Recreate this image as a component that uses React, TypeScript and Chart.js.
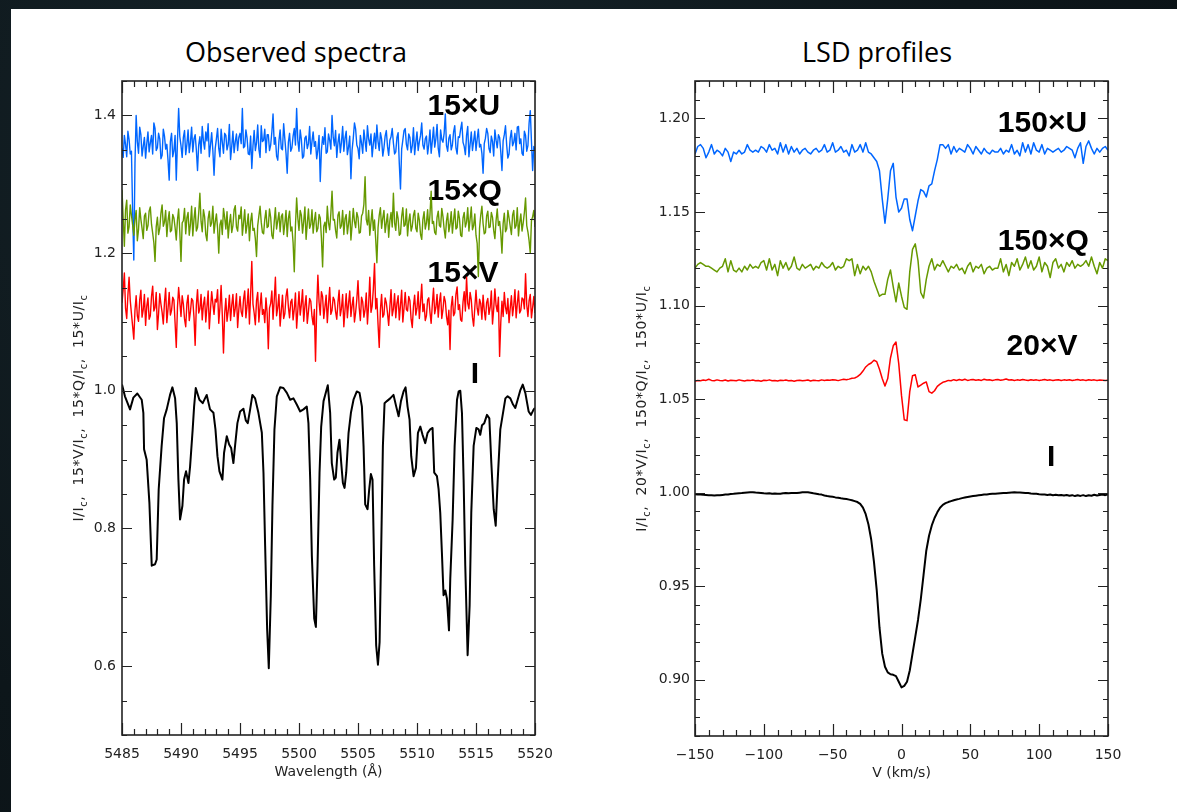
import React, { useEffect, useRef } from "react";
import { Chart, registerables } from "chart.js";

Chart.register(...registerables);

// ---------------- Observed spectra (left panel) ----------------
const I_WAVE = [
  5485.00, 5485.25, 5485.68, 5485.96, 5486.30, 5486.67, 5486.81, 5486.87, 5487.09, 5487.32,
  5487.52, 5487.80, 5487.94, 5488.11, 5488.36, 5488.56, 5488.79, 5489.07, 5489.27, 5489.50,
  5489.64, 5489.78, 5489.92, 5490.12, 5490.26, 5490.43, 5490.63, 5490.77, 5490.99, 5491.11,
  5491.25, 5491.56, 5491.84, 5492.18, 5492.46, 5492.75, 5492.92, 5493.09, 5493.26, 5493.51,
  5493.65, 5493.88, 5494.08, 5494.25, 5494.44, 5494.58, 5494.78, 5495.01, 5495.29, 5495.49,
  5495.66, 5495.86, 5496.05, 5496.28, 5496.56, 5496.85, 5496.99, 5497.13, 5497.30, 5497.44,
  5497.61, 5497.75, 5497.92, 5498.12, 5498.40, 5498.68, 5498.97, 5499.25, 5499.53, 5499.81,
  5500.10, 5500.38, 5500.66, 5500.80, 5500.95, 5501.09, 5501.29, 5501.43, 5501.57, 5501.74,
  5501.88, 5502.08, 5502.27, 5502.44, 5502.64, 5502.78, 5502.98, 5503.12, 5503.26, 5503.43,
  5503.58, 5503.72, 5503.86, 5504.00, 5504.20, 5504.40, 5504.62, 5504.90, 5505.13, 5505.33,
  5505.47, 5505.61, 5505.81, 5505.95, 5506.09, 5506.23, 5506.37, 5506.54, 5506.69, 5506.83,
  5506.97, 5507.11, 5507.25, 5507.45, 5507.73, 5508.01, 5508.24, 5508.44, 5508.64, 5508.86,
  5509.03, 5509.20, 5509.37, 5509.51, 5509.71, 5509.91, 5510.08, 5510.28, 5510.47, 5510.70,
  5510.90, 5511.12, 5511.32, 5511.46, 5511.69, 5511.83, 5511.97, 5512.11, 5512.25, 5512.40,
  5512.54, 5512.71, 5512.82, 5513.02, 5513.19, 5513.39, 5513.53, 5513.67, 5513.81, 5513.95,
  5514.09, 5514.29, 5514.46, 5514.60, 5514.80, 5515.03, 5515.22, 5515.36, 5515.51, 5515.70,
  5515.93, 5516.13, 5516.30, 5516.50, 5516.67, 5516.84, 5517.06, 5517.29, 5517.49, 5517.68,
  5517.91, 5518.14, 5518.33, 5518.53, 5518.76, 5518.96, 5519.18, 5519.46, 5519.66, 5519.89,
  5520.00,
];
const I_FLUX = [
  1.009, 0.992, 0.973, 0.990, 0.996, 0.987, 0.968, 0.915, 0.900, 0.838,
  0.746, 0.748, 0.755, 0.857, 0.920, 0.960, 0.973, 0.994, 1.005, 0.989,
  0.953, 0.871, 0.813, 0.833, 0.871, 0.883, 0.866, 0.890, 0.944, 0.977,
  1.004, 0.987, 0.982, 0.994, 0.973, 0.968, 0.944, 0.905, 0.883, 0.871,
  0.910, 0.934, 0.922, 0.917, 0.895, 0.920, 0.953, 0.970, 0.974, 0.957,
  0.953, 0.973, 0.994, 0.989, 0.968, 0.939, 0.881, 0.775, 0.654, 0.597,
  0.702, 0.833, 0.944, 0.992, 1.005, 1.004, 0.997, 0.987, 0.989, 0.980,
  0.970, 0.973, 0.977, 0.953, 0.871, 0.760, 0.669, 0.657, 0.746, 0.881,
  0.948, 0.985, 0.997, 1.008, 0.968, 0.895, 0.871, 0.874, 0.910, 0.929,
  0.895, 0.866, 0.859, 0.881, 0.939, 0.968, 0.987, 0.999, 0.997, 0.977,
  0.920, 0.835, 0.828, 0.857, 0.879, 0.871, 0.746, 0.630, 0.602, 0.635,
  0.775, 0.920, 0.982, 0.985, 0.989, 0.994, 0.977, 0.963, 0.985, 0.999,
  1.005, 0.977, 0.958, 0.905, 0.876, 0.888, 0.939, 0.948, 0.936, 0.924,
  0.939, 0.944, 0.946, 0.881, 0.876, 0.857, 0.823, 0.765, 0.703, 0.710,
  0.698, 0.652, 0.727, 0.813, 0.920, 0.987, 0.999, 1.000, 0.968, 0.871,
  0.746, 0.616, 0.688, 0.823, 0.920, 0.946, 0.944, 0.936, 0.950, 0.953,
  0.965, 0.960, 0.895, 0.828, 0.804, 0.871, 0.944, 0.968, 0.989, 0.992,
  0.989, 0.980, 0.975, 0.987, 1.001, 1.009, 0.997, 0.970, 0.965, 0.973,
  0.975,
];

const NOISE_WAVE = [
  5485.0, 5485.1, 5485.2, 5485.3, 5485.4, 5485.5, 5485.6, 5485.7, 5485.8, 5485.9,
  5486.0, 5486.1, 5486.2, 5486.3, 5486.4, 5486.5, 5486.6, 5486.7, 5486.8, 5486.9,
  5487.0, 5487.1, 5487.2, 5487.3, 5487.4, 5487.5, 5487.6, 5487.7, 5487.8, 5487.9,
  5488.0, 5488.1, 5488.2, 5488.3, 5488.4, 5488.5, 5488.6, 5488.7, 5488.8, 5488.9,
  5489.0, 5489.1, 5489.2, 5489.3, 5489.4, 5489.5, 5489.6, 5489.7, 5489.8, 5489.9,
  5490.0, 5490.1, 5490.2, 5490.3, 5490.4, 5490.5, 5490.6, 5490.7, 5490.8, 5490.9,
  5491.0, 5491.1, 5491.2, 5491.3, 5491.4, 5491.5, 5491.6, 5491.7, 5491.8, 5491.9,
  5492.0, 5492.1, 5492.2, 5492.3, 5492.4, 5492.5, 5492.6, 5492.7, 5492.8, 5492.9,
  5493.0, 5493.1, 5493.2, 5493.3, 5493.4, 5493.5, 5493.6, 5493.7, 5493.8, 5493.9,
  5494.0, 5494.1, 5494.2, 5494.3, 5494.4, 5494.5, 5494.6, 5494.7, 5494.8, 5494.9,
  5495.0, 5495.1, 5495.2, 5495.3, 5495.4, 5495.5, 5495.6, 5495.7, 5495.8, 5495.9,
  5496.0, 5496.1, 5496.2, 5496.3, 5496.4, 5496.5, 5496.6, 5496.7, 5496.8, 5496.9,
  5497.0, 5497.1, 5497.2, 5497.3, 5497.4, 5497.5, 5497.6, 5497.7, 5497.8, 5497.9,
  5498.0, 5498.1, 5498.2, 5498.3, 5498.4, 5498.5, 5498.6, 5498.7, 5498.8, 5498.9,
  5499.0, 5499.1, 5499.2, 5499.3, 5499.4, 5499.5, 5499.6, 5499.7, 5499.8, 5499.9,
  5500.0, 5500.1, 5500.2, 5500.3, 5500.4, 5500.5, 5500.6, 5500.7, 5500.8, 5500.9,
  5501.0, 5501.1, 5501.2, 5501.3, 5501.4, 5501.5, 5501.6, 5501.7, 5501.8, 5501.9,
  5502.0, 5502.1, 5502.2, 5502.3, 5502.4, 5502.5, 5502.6, 5502.7, 5502.8, 5502.9,
  5503.0, 5503.1, 5503.2, 5503.3, 5503.4, 5503.5, 5503.6, 5503.7, 5503.8, 5503.9,
  5504.0, 5504.1, 5504.2, 5504.3, 5504.4, 5504.5, 5504.6, 5504.7, 5504.8, 5504.9,
  5505.0, 5505.1, 5505.2, 5505.3, 5505.4, 5505.5, 5505.6, 5505.7, 5505.8, 5505.9,
  5506.0, 5506.1, 5506.2, 5506.3, 5506.4, 5506.5, 5506.6, 5506.7, 5506.8, 5506.9,
  5507.0, 5507.1, 5507.2, 5507.3, 5507.4, 5507.5, 5507.6, 5507.7, 5507.8, 5507.9,
  5508.0, 5508.1, 5508.2, 5508.3, 5508.4, 5508.5, 5508.6, 5508.7, 5508.8, 5508.9,
  5509.0, 5509.1, 5509.2, 5509.3, 5509.4, 5509.5, 5509.6, 5509.7, 5509.8, 5509.9,
  5510.0, 5510.1, 5510.2, 5510.3, 5510.4, 5510.5, 5510.6, 5510.7, 5510.8, 5510.9,
  5511.0, 5511.1, 5511.2, 5511.3, 5511.4, 5511.5, 5511.6, 5511.7, 5511.8, 5511.9,
  5512.0, 5512.1, 5512.2, 5512.3, 5512.4, 5512.5, 5512.6, 5512.7, 5512.8, 5512.9,
  5513.0, 5513.1, 5513.2, 5513.3, 5513.4, 5513.5, 5513.6, 5513.7, 5513.8, 5513.9,
  5514.0, 5514.1, 5514.2, 5514.3, 5514.4, 5514.5, 5514.6, 5514.7, 5514.8, 5514.9,
  5515.0, 5515.1, 5515.2, 5515.3, 5515.4, 5515.5, 5515.6, 5515.7, 5515.8, 5515.9,
  5516.0, 5516.1, 5516.2, 5516.3, 5516.4, 5516.5, 5516.6, 5516.7, 5516.8, 5516.9,
  5517.0, 5517.1, 5517.2, 5517.3, 5517.4, 5517.5, 5517.6, 5517.7, 5517.8, 5517.9,
  5518.0, 5518.1, 5518.2, 5518.3, 5518.4, 5518.5, 5518.6, 5518.7, 5518.8, 5518.9,
  5519.0, 5519.1, 5519.2, 5519.3, 5519.4, 5519.5, 5519.6, 5519.7, 5519.8, 5519.9,
  5520.0,
];
const U15 = [
  1.352, 1.339, 1.371, 1.358, 1.340, 1.377, 1.365, 1.344, 1.348, 1.262, 1.190, 1.331, 1.400, 1.362, 1.345, 1.383, 1.372, 1.341, 1.355, 1.368,
  1.338, 1.359, 1.376, 1.347, 1.360, 1.371, 1.344, 1.389, 1.381, 1.349, 1.353, 1.374, 1.366, 1.337, 1.342, 1.380, 1.370, 1.351, 1.358, 1.335,
  1.306, 1.362, 1.374, 1.340, 1.349, 1.371, 1.306, 1.362, 1.410, 1.369, 1.356, 1.339, 1.368, 1.378, 1.343, 1.358, 1.379, 1.346, 1.361, 1.383,
  1.347, 1.366, 1.372, 1.350, 1.320, 1.357, 1.369, 1.345, 1.384, 1.363, 1.351, 1.376, 1.363, 1.388, 1.340, 1.357, 1.375, 1.349, 1.313, 1.352,
  1.366, 1.381, 1.352, 1.340, 1.380, 1.361, 1.345, 1.374, 1.371, 1.350, 1.358, 1.387, 1.336, 1.355, 1.377, 1.346, 1.362, 1.373, 1.349, 1.368,
  1.374, 1.359, 1.410, 1.353, 1.355, 1.379, 1.367, 1.344, 1.343, 1.370, 1.323, 1.356, 1.378, 1.349, 1.360, 1.386, 1.351, 1.339, 1.385, 1.362,
  1.364, 1.380, 1.346, 1.372, 1.372, 1.349, 1.357, 1.376, 1.402, 1.358, 1.368, 1.341, 1.335, 1.363, 1.379, 1.352, 1.350, 1.388, 1.366, 1.345,
  1.316, 1.361, 1.374, 1.348, 1.353, 1.370, 1.381, 1.357, 1.410, 1.364, 1.348, 1.379, 1.365, 1.338, 1.341, 1.367, 1.370, 1.352, 1.359, 1.384,
  1.344, 1.362, 1.376, 1.355, 1.362, 1.337, 1.350, 1.371, 1.304, 1.349, 1.369, 1.358, 1.382, 1.345, 1.347, 1.373, 1.364, 1.351, 1.400, 1.368,
  1.356, 1.378, 1.339, 1.360, 1.373, 1.346, 1.361, 1.384, 1.348, 1.367, 1.377, 1.343, 1.354, 1.370, 1.308, 1.350, 1.367, 1.389, 1.380, 1.357,
  1.352, 1.337, 1.371, 1.360, 1.345, 1.379, 1.363, 1.348, 1.385, 1.366, 1.357, 1.373, 1.340, 1.359, 1.374, 1.352, 1.386, 1.362, 1.349, 1.375,
  1.366, 1.341, 1.353, 1.370, 1.378, 1.355, 1.342, 1.364, 1.369, 1.381, 1.360, 1.344, 1.347, 1.368, 1.375, 1.330, 1.293, 1.351, 1.364, 1.378,
  1.381, 1.358, 1.350, 1.373, 1.368, 1.346, 1.356, 1.382, 1.343, 1.361, 1.376, 1.349, 1.362, 1.371, 1.389, 1.357, 1.351, 1.366, 1.370, 1.344,
  1.358, 1.379, 1.345, 1.363, 1.383, 1.354, 1.366, 1.387, 1.352, 1.340, 1.379, 1.365, 1.361, 1.374, 1.402, 1.356, 1.348, 1.367, 1.372, 1.350,
  1.357, 1.376, 1.385, 1.353, 1.344, 1.369, 1.368, 1.380, 1.390, 1.361, 1.355, 1.343, 1.371, 1.384, 1.340, 1.358, 1.376, 1.349, 1.363, 1.377,
  1.349, 1.366, 1.380, 1.354, 1.358, 1.345, 1.316, 1.359, 1.367, 1.381, 1.374, 1.352, 1.346, 1.370, 1.362, 1.341, 1.379, 1.364, 1.353, 1.372,
  1.368, 1.347, 1.320, 1.363, 1.372, 1.385, 1.357, 1.338, 1.344, 1.367, 1.378, 1.356, 1.361, 1.374, 1.350, 1.383, 1.384, 1.359, 1.366, 1.345,
  1.342, 1.377, 1.371, 1.348, 1.356, 1.389, 1.407, 1.362, 1.320, 1.355, 1.350,
];
const Q15 = [
  1.292, 1.251, 1.210, 1.263, 1.277, 1.229, 1.238, 1.270, 1.255, 1.241, 1.226, 1.249, 1.262, 1.218, 1.234, 1.266, 1.249, 1.236, 1.221, 1.254,
  1.258, 1.233, 1.240, 1.261, 1.267, 1.242, 1.229, 1.215, 1.188, 1.238, 1.252, 1.227, 1.236, 1.258, 1.270, 1.239, 1.245, 1.262, 1.224, 1.247,
  1.260, 1.231, 1.233, 1.256, 1.251, 1.237, 1.219, 1.248, 1.264, 1.230, 1.188, 1.244, 1.247, 1.265, 1.228, 1.251, 1.259, 1.226, 1.242, 1.268,
  1.225, 1.249, 1.266, 1.232, 1.237, 1.258, 1.287, 1.246, 1.231, 1.263, 1.253, 1.227, 1.218, 1.250, 1.261, 1.239, 1.244, 1.268, 1.229, 1.245,
  1.257, 1.236, 1.200, 1.241, 1.248, 1.227, 1.265, 1.252, 1.235, 1.260, 1.222, 1.243, 1.256, 1.230, 1.240, 1.263, 1.269, 1.238, 1.232, 1.255,
  1.250, 1.267, 1.226, 1.244, 1.263, 1.229, 1.241, 1.257, 1.218, 1.246, 1.258, 1.233, 1.236, 1.221, 1.195, 1.240, 1.254, 1.268, 1.245, 1.230,
  1.228, 1.249, 1.262, 1.237, 1.239, 1.264, 1.252, 1.226, 1.221, 1.245, 1.266, 1.235, 1.247, 1.259, 1.231, 1.253, 1.257, 1.227, 1.243, 1.262,
  1.224, 1.250, 1.261, 1.232, 1.238, 1.215, 1.173, 1.240, 1.280, 1.251, 1.233, 1.262, 1.255, 1.229, 1.246, 1.267, 1.220, 1.243, 1.264, 1.236,
  1.242, 1.263, 1.229, 1.247, 1.259, 1.231, 1.236, 1.256, 1.251, 1.222, 1.180, 1.239, 1.245, 1.230, 1.268, 1.244, 1.234, 1.258, 1.290, 1.248,
  1.249, 1.233, 1.222, 1.255, 1.260, 1.236, 1.240, 1.262, 1.227, 1.250, 1.256, 1.228, 1.243, 1.261, 1.219, 1.241, 1.265, 1.246, 1.237, 1.259,
  1.252, 1.229, 1.230, 1.254, 1.258, 1.271, 1.311, 1.249, 1.241, 1.262, 1.226, 1.245, 1.263, 1.233, 1.248, 1.220, 1.186, 1.237, 1.255, 1.266,
  1.236, 1.251, 1.262, 1.230, 1.244, 1.257, 1.223, 1.247, 1.259, 1.238, 1.287, 1.244, 1.233, 1.260, 1.250, 1.226, 1.228, 1.253, 1.266, 1.239,
  1.241, 1.264, 1.225, 1.246, 1.257, 1.232, 1.239, 1.255, 1.262, 1.236, 1.231, 1.258, 1.248, 1.227, 1.220, 1.249, 1.260, 1.235, 1.244, 1.263,
  1.234, 1.256, 1.290, 1.243, 1.246, 1.230, 1.227, 1.252, 1.261, 1.240, 1.238, 1.265, 1.253, 1.235, 1.222, 1.247, 1.258, 1.231, 1.242, 1.260,
  1.229, 1.248, 1.264, 1.235, 1.237, 1.261, 1.250, 1.226, 1.224, 1.251, 1.259, 1.238, 1.245, 1.266, 1.232, 1.249, 1.267, 1.234, 1.240, 1.257,
  1.226, 1.214, 1.166, 1.236, 1.255, 1.268, 1.243, 1.228, 1.230, 1.254, 1.261, 1.237, 1.238, 1.259, 1.252, 1.233, 1.221, 1.247, 1.264, 1.240,
  1.246, 1.229, 1.200, 1.243, 1.258, 1.231, 1.235, 1.262, 1.251, 1.239, 1.227, 1.255, 1.262, 1.236, 1.240, 1.266, 1.225, 1.244, 1.257, 1.232,
  1.244, 1.259, 1.280, 1.240, 1.231, 1.218, 1.200, 1.247, 1.253, 1.262, 1.238,
];
const V15 = [
  1.128, 1.147, 1.171, 1.120, 1.105, 1.139, 1.165, 1.131, 1.112, 1.094, 1.075, 1.117, 1.138, 1.109, 1.101, 1.132, 1.146, 1.107, 1.118, 1.140,
  1.095, 1.123, 1.135, 1.104, 1.109, 1.137, 1.152, 1.116, 1.121, 1.143, 1.089, 1.112, 1.141, 1.126, 1.114, 1.097, 1.128, 1.149, 1.099, 1.119,
  1.143, 1.110, 1.117, 1.136, 1.132, 1.098, 1.063, 1.121, 1.150, 1.129, 1.108, 1.138, 1.126, 1.104, 1.093, 1.127, 1.139, 1.102, 1.115, 1.134,
  1.131, 1.107, 1.066, 1.124, 1.147, 1.113, 1.119, 1.140, 1.103, 1.125, 1.136, 1.100, 1.122, 1.145, 1.090, 1.118, 1.144, 1.127, 1.111, 1.133,
  1.129, 1.147, 1.098, 1.121, 1.153, 1.110, 1.055, 1.112, 1.134, 1.101, 1.116, 1.139, 1.102, 1.124, 1.140, 1.108, 1.120, 1.141, 1.092, 1.118,
  1.137, 1.115, 1.108, 1.133, 1.145, 1.106, 1.124, 1.148, 1.097, 1.140, 1.188, 1.126, 1.113, 1.096, 1.131, 1.143, 1.100, 1.122, 1.142, 1.111,
  1.118, 1.099, 1.135, 1.113, 1.061, 1.120, 1.127, 1.145, 1.104, 1.132, 1.165, 1.109, 1.121, 1.140, 1.094, 1.116, 1.139, 1.105, 1.112, 1.137,
  1.148, 1.122, 1.106, 1.129, 1.133, 1.103, 1.119, 1.142, 1.091, 1.117, 1.144, 1.110, 1.125, 1.147, 1.101, 1.123, 1.138, 1.098, 1.115, 1.134,
  1.130, 1.108, 1.096, 1.118, 1.043, 1.121, 1.168, 1.129, 1.110, 1.144, 1.137, 1.105, 1.122, 1.139, 1.099, 1.126, 1.150, 1.111, 1.117, 1.136,
  1.132, 1.115, 1.104, 1.128, 1.146, 1.109, 1.120, 1.140, 1.093, 1.118, 1.141, 1.106, 1.127, 1.145, 1.108, 1.124, 1.136, 1.100, 1.114, 1.133,
  1.160, 1.121, 1.102, 1.136, 1.129, 1.107, 1.118, 1.142, 1.097, 1.125, 1.165, 1.114, 1.123, 1.148, 1.185, 1.119, 1.134, 1.096, 1.063, 1.118,
  1.140, 1.107, 1.111, 1.135, 1.128, 1.113, 1.095, 1.122, 1.147, 1.109, 1.119, 1.141, 1.106, 1.127, 1.138, 1.103, 1.124, 1.146, 1.100, 1.120,
  1.143, 1.118, 1.116, 1.137, 1.131, 1.104, 1.092, 1.123, 1.139, 1.110, 1.120, 1.144, 1.105, 1.128, 1.155, 1.115, 1.126, 1.102, 1.109, 1.132,
  1.135, 1.114, 1.098, 1.126, 1.149, 1.112, 1.121, 1.140, 1.107, 1.129, 1.142, 1.105, 1.118, 1.137, 1.130, 1.108, 1.096, 1.117, 1.060, 1.122,
  1.137, 1.109, 1.113, 1.140, 1.151, 1.118, 1.125, 1.103, 1.101, 1.129, 1.144, 1.116, 1.165, 1.127, 1.119, 1.143, 1.132, 1.107, 1.094, 1.121,
  1.146, 1.120, 1.110, 1.133, 1.127, 1.104, 1.139, 1.117, 1.103, 1.128, 1.134, 1.111, 1.121, 1.145, 1.097, 1.119, 1.148, 1.124, 1.115, 1.136,
  1.050, 1.099, 1.130, 1.108, 1.143, 1.121, 1.112, 1.134, 1.099, 1.120, 1.138, 1.109, 1.124, 1.147, 1.106, 1.126, 1.145, 1.113, 1.117, 1.135,
  1.133, 1.119, 1.170, 1.125, 1.108, 1.131, 1.140, 1.106, 1.121, 1.137, 1.113,
];

// ---------------- LSD profiles (right panel) ----------------
const VEL = [
  -150, -148, -146, -144, -142, -140, -138, -136, -134, -132,
  -130, -128, -126, -124, -122, -120, -118, -116, -114, -112,
  -110, -108, -106, -104, -102, -100, -98, -96, -94, -92,
  -90, -88, -86, -84, -82, -80, -78, -76, -74, -72,
  -70, -68, -66, -64, -62, -60, -58, -56, -54, -52,
  -50, -48, -46, -44, -42, -40, -38, -36, -34, -32,
  -30, -28, -26, -24, -22, -20, -18, -16, -14, -12,
  -10, -8, -6, -4, -2, 0, 2, 4, 6, 8,
  10, 12, 14, 16, 18, 20, 22, 24, 26, 28,
  30, 32, 34, 36, 38, 40, 42, 44, 46, 48,
  50, 52, 54, 56, 58, 60, 62, 64, 66, 68,
  70, 72, 74, 76, 78, 80, 82, 84, 86, 88,
  90, 92, 94, 96, 98, 100, 102, 104, 106, 108,
  110, 112, 114, 116, 118, 120, 122, 124, 126, 128,
  130, 132, 134, 136, 138, 140, 142, 144, 146, 148,
  150,
];
const LSD_U150 = [
  1.181, 1.185, 1.186, 1.184, 1.179, 1.182, 1.186, 1.181, 1.183, 1.182,
  1.180, 1.184, 1.182, 1.177, 1.182, 1.181, 1.183, 1.181, 1.182, 1.186,
  1.183, 1.182, 1.183, 1.182, 1.185, 1.184, 1.182, 1.186, 1.183, 1.184,
  1.181, 1.187, 1.182, 1.186, 1.181, 1.185, 1.182, 1.184, 1.181, 1.183,
  1.184, 1.182, 1.181, 1.183, 1.184, 1.182, 1.183, 1.186, 1.182, 1.183,
  1.187, 1.182, 1.183, 1.185, 1.182, 1.183, 1.180, 1.186, 1.182, 1.183,
  1.186, 1.182, 1.187, 1.182, 1.181, 1.179, 1.177, 1.172, 1.157, 1.144,
  1.157, 1.172, 1.176, 1.158, 1.150, 1.152, 1.157, 1.157, 1.146, 1.140,
  1.148, 1.156, 1.162, 1.161, 1.158, 1.164, 1.165, 1.172, 1.178, 1.186,
  1.186, 1.184, 1.186, 1.181, 1.185, 1.182, 1.184, 1.183, 1.182, 1.186,
  1.184, 1.181, 1.185, 1.183, 1.181, 1.184, 1.182, 1.181, 1.183, 1.182,
  1.182, 1.184, 1.181, 1.183, 1.182, 1.186, 1.181, 1.183, 1.180, 1.187,
  1.182, 1.186, 1.181, 1.187, 1.183, 1.182, 1.186, 1.181, 1.184, 1.183,
  1.182, 1.183, 1.184, 1.182, 1.183, 1.185, 1.184, 1.183, 1.179, 1.184,
  1.187, 1.176, 1.185, 1.188, 1.184, 1.181, 1.184, 1.182, 1.184, 1.185,
  1.183,
];
const LSD_Q150 = [
  1.120, 1.122, 1.123, 1.122, 1.121, 1.121, 1.120, 1.119, 1.118, 1.120,
  1.121, 1.125, 1.118, 1.124, 1.119, 1.118, 1.120, 1.118, 1.121, 1.119,
  1.122, 1.120, 1.121, 1.120, 1.123, 1.124, 1.119, 1.125, 1.119, 1.122,
  1.116, 1.124, 1.120, 1.123, 1.119, 1.121, 1.126, 1.120, 1.119, 1.122,
  1.120, 1.121, 1.122, 1.119, 1.121, 1.120, 1.123, 1.121, 1.120, 1.121,
  1.123, 1.119, 1.121, 1.120, 1.121, 1.125, 1.124, 1.125, 1.116, 1.122,
  1.117, 1.121, 1.119, 1.121, 1.118, 1.113, 1.109, 1.105, 1.106, 1.106,
  1.114, 1.119, 1.110, 1.102, 1.112, 1.105, 1.099, 1.098, 1.118, 1.130,
  1.133, 1.124, 1.107, 1.104, 1.114, 1.121, 1.125, 1.119, 1.122, 1.121,
  1.124, 1.121, 1.118, 1.121, 1.120, 1.122, 1.119, 1.120, 1.117, 1.121,
  1.123, 1.118, 1.121, 1.120, 1.122, 1.117, 1.120, 1.121, 1.119, 1.120,
  1.120, 1.125, 1.118, 1.122, 1.116, 1.123, 1.121, 1.125, 1.119, 1.122,
  1.126, 1.120, 1.124, 1.119, 1.121, 1.126, 1.118, 1.123, 1.121, 1.115,
  1.123, 1.125, 1.120, 1.122, 1.118, 1.123, 1.121, 1.124, 1.120, 1.122,
  1.121, 1.122, 1.124, 1.121, 1.126, 1.121, 1.117, 1.123, 1.120, 1.125,
  1.124,
];
const LSD_V20 = [
  1.0595, 1.0600, 1.0598, 1.0602, 1.0600, 1.0606, 1.0600, 1.0598, 1.0603, 1.0600,
  1.0598, 1.0602, 1.0597, 1.0601, 1.0600, 1.0598, 1.0603, 1.0600, 1.0597, 1.0601,
  1.0599, 1.0602, 1.0598, 1.0600, 1.0596, 1.0601, 1.0599, 1.0603, 1.0598, 1.0600,
  1.0597, 1.0601, 1.0599, 1.0602, 1.0598, 1.0600, 1.0596, 1.0600, 1.0601, 1.0598,
  1.0600, 1.0602, 1.0597, 1.0601, 1.0599, 1.0598, 1.0603, 1.0600, 1.0602, 1.0601,
  1.0603, 1.0602, 1.0599, 1.0603, 1.0606, 1.0604, 1.0607, 1.0612, 1.0613, 1.0620,
  1.0632, 1.0650, 1.0672, 1.0685, 1.0693, 1.0708, 1.0700, 1.0660, 1.0610, 1.0570,
  1.0610, 1.0720, 1.0785, 1.0805, 1.0690, 1.0520, 1.0390, 1.0385, 1.0540, 1.0625,
  1.0630, 1.0565, 1.0575, 1.0585, 1.0592, 1.0540, 1.0532, 1.0545, 1.0568, 1.0580,
  1.0590, 1.0594, 1.0600, 1.0598, 1.0604, 1.0600, 1.0605, 1.0601, 1.0606, 1.0600,
  1.0603, 1.0605, 1.0601, 1.0604, 1.0600, 1.0606, 1.0602, 1.0604, 1.0600, 1.0603,
  1.0605, 1.0601, 1.0604, 1.0608, 1.0602, 1.0604, 1.0600, 1.0603, 1.0601, 1.0605,
  1.0602, 1.0600, 1.0604, 1.0601, 1.0603, 1.0600, 1.0602, 1.0605, 1.0601, 1.0603,
  1.0600, 1.0602, 1.0604, 1.0600, 1.0603, 1.0601, 1.0604, 1.0600, 1.0602, 1.0605,
  1.0601, 1.0603, 1.0600, 1.0604, 1.0601, 1.0603, 1.0600, 1.0602, 1.0601, 1.0600,
  1.0601,
];
const LSD_I = [
  0.9992, 0.9990, 0.9991, 0.9989, 0.9988, 0.9987, 0.9986, 0.9985, 0.9987, 0.9986,
  0.9988, 0.9990, 0.9991, 0.9993, 0.9994, 0.9996, 0.9997, 0.9998, 1.0000, 1.0001,
  1.0002, 1.0003, 1.0001, 1.0000, 0.9999, 0.9997, 0.9996, 0.9997, 0.9995, 0.9996,
  0.9994, 0.9995, 0.9997, 0.9998, 0.9997, 0.9998, 0.9999, 0.9998, 1.0000, 1.0002,
  1.0003, 1.0002, 1.0000, 0.9997, 0.9995, 0.9992, 0.9990, 0.9985, 0.9982, 0.9980,
  0.9978, 0.9975, 0.9973, 0.9970, 0.9968, 0.9966, 0.9963, 0.9960, 0.9955, 0.9950,
  0.9940, 0.9920, 0.9885, 0.9830, 0.9750, 0.9630, 0.9480, 0.9280, 0.9140, 0.9070,
  0.9040, 0.9030, 0.9027, 0.9020, 0.8990, 0.8960, 0.8968, 0.8990, 0.9050, 0.9140,
  0.9230, 0.9320, 0.9430, 0.9560, 0.9690, 0.9770, 0.9825, 0.9865, 0.9895, 0.9920,
  0.9935, 0.9944, 0.9950, 0.9955, 0.9960, 0.9964, 0.9967, 0.9971, 0.9974, 0.9977,
  0.9980, 0.9982, 0.9984, 0.9986, 0.9988, 0.9990, 0.9991, 0.9993, 0.9994, 0.9995,
  0.9996, 0.9997, 0.9998, 0.9999, 1.0000, 1.0001, 1.0002, 1.0001, 1.0001, 1.0000,
  0.9999, 0.9998, 0.9996, 0.9995, 0.9994, 0.9992, 0.9991, 0.9990, 0.9988, 0.9990,
  0.9987, 0.9989, 0.9986, 0.9988, 0.9985, 0.9988, 0.9984, 0.9987, 0.9982, 0.9986,
  0.9983, 0.9987, 0.9982, 0.9986, 0.9984, 0.9989, 0.9985, 0.9988, 0.9990, 0.9987,
  0.9991,
];

// ---------------- axis ticks ----------------
const LEFT_X_TICKS = [5485, 5490, 5495, 5500, 5505, 5510, 5515, 5520];
const LEFT_Y_TICKS = [0.6, 0.8, 1.0, 1.2, 1.4];
const RIGHT_X_TICKS = [-150, -100, -50, 0, 50, 100, 150];
const RIGHT_Y_TICKS = [0.9, 0.95, 1.0, 1.05, 1.1, 1.15, 1.2];

// ---------------- in-plot labels (data coordinates) ----------------
const LEFT_LABELS = [
  { text: "15×U", x: 5510.9, y: 1.4 },
  { text: "15×Q", x: 5510.9, y: 1.277 },
  { text: "15×V", x: 5510.9, y: 1.158 },
  { text: "I", x: 5514.55, y: 1.012 },
];
const RIGHT_LABELS = [
  { text: "150×U", x: 70, y: 1.1927 },
  { text: "150×Q", x: 70, y: 1.1295 },
  { text: "20×V", x: 76.3, y: 1.0735 },
  { text: "I", x: 105.6, y: 1.0142 },
];

const LEFT_YTITLE: [string, boolean][] = [
  ["I/I", false], ["c", true], [",  15*V/I", false], ["c", true],
  [",  15*Q/I", false], ["c", true], [",  15*U/I", false], ["c", true],
];
const RIGHT_YTITLE: [string, boolean][] = [
  ["I/I", false], ["c", true], [",  20*V/I", false], ["c", true],
  [",  150*Q/I", false], ["c", true], [",  150*U/I", false], ["c", true],
];

const AXIS_FONT = "'DejaVu Sans', 'Liberation Sans', sans-serif";
const INK = "#222";

const idlPlugin = {
  id: "idl",
  beforeDatasetsDraw(chart: any, _a: any, opts: any) {
    const { ctx } = chart;
    const xs = chart.scales.x;
    const ys = chart.scales.y;
    ctx.save();
    ctx.fillStyle = "#000";
    ctx.font = "bold 30px 'Liberation Sans', Arial, sans-serif";
    ctx.textAlign = "left";
    ctx.textBaseline = "alphabetic";
    for (const l of opts.labels) {
      ctx.fillText(l.text, xs.getPixelForValue(l.x), ys.getPixelForValue(l.y));
    }
    ctx.restore();
  },
  afterDatasetsDraw(chart: any, _a: any, opts: any) {
    const { ctx, chartArea: a } = chart;
    const xs = chart.scales.x;
    const ys = chart.scales.y;
    ctx.save();
    ctx.strokeStyle = INK;
    ctx.lineWidth = 1.2;
    ctx.beginPath();
    const nx = Math.round((opts.xMax - opts.xMin) / opts.xMinor);
    for (let i = 0; i <= nx; i++) {
      const v = opts.xMin + i * opts.xMinor;
      const major = opts.xMajor.some((m: number) => Math.abs(m - v) < 1e-6);
      const L = major ? 12 : 6;
      const p = Math.round(xs.getPixelForValue(v)) + 0.5;
      ctx.moveTo(p, a.bottom);
      ctx.lineTo(p, a.bottom - L);
      ctx.moveTo(p, a.top);
      ctx.lineTo(p, a.top + L);
    }
    const ny = Math.round((opts.yMax - opts.yMin) / opts.yMinor);
    for (let i = 0; i <= ny; i++) {
      const v = opts.yMin + i * opts.yMinor;
      const major = opts.yMajor.some((m: number) => Math.abs(m - v) < 1e-6);
      const L = major ? 10 : 5;
      const p = Math.round(ys.getPixelForValue(v)) + 0.5;
      ctx.moveTo(a.left, p);
      ctx.lineTo(a.left + L, p);
      ctx.moveTo(a.right, p);
      ctx.lineTo(a.right - L, p);
    }
    ctx.stroke();
    ctx.lineWidth = 1.6;
    ctx.strokeRect(a.left, a.top, a.right - a.left, a.bottom - a.top);

    // x title
    ctx.fillStyle = INK;
    ctx.font = `14px ${AXIS_FONT}`;
    ctx.textAlign = "center";
    ctx.textBaseline = "middle";
    ctx.fillText(opts.xTitle, (a.left + a.right) / 2, a.bottom + 37);

    // y title with subscripts
    const main = `14px ${AXIS_FONT}`;
    const sub = `10px ${AXIS_FONT}`;
    (ctx as any).letterSpacing = "0.6px";
    let total = 0;
    for (const [t, s] of opts.yTitle) {
      ctx.font = s ? sub : main;
      total += ctx.measureText(t).width;
    }
    ctx.translate(opts.yTitleX, (a.top + a.bottom) / 2);
    ctx.rotate(-Math.PI / 2);
    ctx.textAlign = "left";
    let x = -total / 2;
    for (const [t, s] of opts.yTitle) {
      ctx.font = s ? sub : main;
      ctx.fillText(t, x, s ? 5 : 0);
      x += ctx.measureText(t).width;
    }
    ctx.restore();
  },
};

function line(xv: number[], yv: number[], color: string, width: number) {
  return {
    data: xv.map((x, i) => ({ x, y: yv[i] })),
    borderColor: color,
    borderWidth: width,
    pointRadius: 0,
    tension: 0,
    fill: false,
    borderJoinStyle: "round" as const,
  };
}

function scaleCommon(ticks: number[], fmt: (v: number) => string, pad: number) {
  return {
    type: "linear" as const,
    grid: { display: false, drawTicks: false },
    border: { display: false },
    afterBuildTicks: (s: any) => {
      s.ticks = ticks.map((value) => ({ value }));
    },
    ticks: {
      autoSkip: false,
      maxRotation: 0,
      padding: pad,
      color: INK,
      font: { family: AXIS_FONT, size: 14 },
      callback: (v: any) => fmt(Number(v)),
    },
  };
}

function leftConfig(): any {
  return {
    type: "line",
    data: {
      datasets: [
        line(I_WAVE, I_FLUX, "#000000", 2),
        line(NOISE_WAVE, V15, "#ff0000", 1.4),
        line(NOISE_WAVE, Q15, "#669900", 1.4),
        line(NOISE_WAVE, U15, "#0066ff", 1.4),
      ],
    },
    options: {
      responsive: false,
      animation: false,
      devicePixelRatio: 1,
      layout: { padding: { left: 0, right: 65, top: 81, bottom: 0 } },
      plugins: {
        legend: { display: false },
        tooltip: { enabled: false },
        idl: {
          labels: LEFT_LABELS,
          xMin: 5485, xMax: 5520, xMinor: 1, xMajor: LEFT_X_TICKS,
          yMin: 0.5, yMax: 1.45, yMinor: 0.05, yMajor: LEFT_Y_TICKS,
          xTitle: "Wavelength (Å)",
          yTitle: LEFT_YTITLE,
          yTitleX: 79,
        },
      },
      scales: {
        x: {
          ...scaleCommon(LEFT_X_TICKS, (v) => String(v), 11),
          min: 5485, max: 5520,
          afterFit: (s: any) => { s.height = 77; },
        },
        y: {
          ...scaleCommon(LEFT_Y_TICKS, (v) => v.toFixed(1), 6),
          min: 0.5, max: 1.45,
          afterFit: (s: any) => { s.width = 122; },
        },
      },
    },
    plugins: [idlPlugin],
  };
}

function rightConfig(): any {
  return {
    type: "line",
    data: {
      datasets: [
        line(VEL, LSD_I, "#000000", 2),
        line(VEL, LSD_V20, "#ff0000", 1.5),
        line(VEL, LSD_Q150, "#669900", 1.5),
        line(VEL, LSD_U150, "#0066ff", 1.5),
      ],
    },
    options: {
      responsive: false,
      animation: false,
      devicePixelRatio: 1,
      layout: { padding: { left: 0, right: 69, top: 81, bottom: 0 } },
      plugins: {
        legend: { display: false },
        tooltip: { enabled: false },
        idl: {
          labels: RIGHT_LABELS,
          xMin: -150, xMax: 150, xMinor: 10, xMajor: RIGHT_X_TICKS,
          yMin: 0.87, yMax: 1.22, yMinor: 0.01, yMajor: RIGHT_Y_TICKS,
          xTitle: "V (km/s)",
          yTitle: RIGHT_YTITLE,
          yTitleX: 42,
        },
      },
      scales: {
        x: {
          ...scaleCommon(RIGHT_X_TICKS, (v) => (v < 0 ? "\u2212" + Math.abs(v) : String(v)), 11),
          min: -150, max: 150,
          afterFit: (s: any) => { s.height = 76; },
        },
        y: {
          ...scaleCommon(RIGHT_Y_TICKS, (v) => v.toFixed(2), 5),
          min: 0.87, max: 1.22,
          afterFit: (s: any) => { s.width = 95; },
        },
      },
    },
    plugins: [idlPlugin],
  };
}

function Plot({ left, width, make }: { left: number; width: number; make: () => any }) {
  const ref = useRef<HTMLCanvasElement>(null);
  useEffect(() => {
    const chart = new Chart(ref.current as HTMLCanvasElement, make());
    return () => chart.destroy();
  }, []);
  return (
    <canvas
      ref={ref}
      width={width}
      height={812}
      style={{ position: "absolute", left, top: 0, width, height: 812 }}
    />
  );
}

const titleStyle: React.CSSProperties = {
  position: "absolute",
  top: 34,
  fontFamily: "'Open Sans', 'Noto Sans', sans-serif",
  fontSize: 27,
  color: "#000",
  lineHeight: "36px",
  whiteSpace: "nowrap",
  transform: "translateX(-50%)",
};

export default function App() {
  return (
    <div
      style={{
        position: "absolute",
        left: 0,
        top: 0,
        width: 1177,
        height: 812,
        overflow: "hidden",
        background: "radial-gradient(circle at 30% 20%, #16242a 0%, #0d161a 60%, #0a1115 100%)",
      }}
    >
      <div style={{ position: "absolute", left: 11, top: 9, width: 1166, height: 803, background: "#ffffff" }} />
      <div style={{ ...titleStyle, left: 296 }}>Observed spectra</div>
      <div style={{ ...titleStyle, left: 877 }}>LSD profiles</div>
      <Plot left={0} width={600} make={leftConfig} />
      <Plot left={600} width={577} make={rightConfig} />
    </div>
  );
}
